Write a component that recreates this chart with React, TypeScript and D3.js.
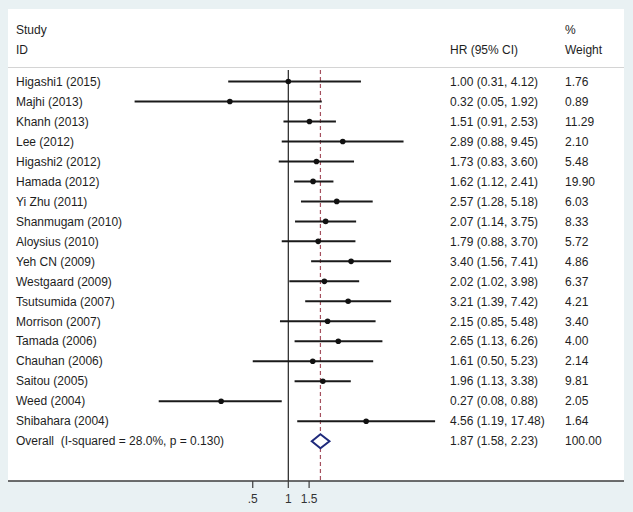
import React from "react";
import * as d3 from "d3";

const studies = [
  "Higashi1 (2015)", "Majhi (2013)", "Khanh (2013)", "Lee (2012)", "Higashi2 (2012)",
  "Hamada (2012)", "Yi Zhu (2011)", "Shanmugam (2010)", "Aloysius (2010)", "Yeh CN (2009)",
  "Westgaard (2009)", "Tsutsumida (2007)", "Morrison (2007)", "Tamada (2006)", "Chauhan (2006)",
  "Saitou (2005)", "Weed (2004)", "Shibahara (2004)",
];
const hr = [1.00, 0.32, 1.51, 2.89, 1.73, 1.62, 2.57, 2.07, 1.79, 3.40, 2.02, 3.21, 2.15, 2.65, 1.61, 1.96, 0.27, 4.56];
const lower = [0.31, 0.05, 0.91, 0.88, 0.83, 1.12, 1.28, 1.14, 0.88, 1.56, 1.02, 1.39, 0.85, 1.13, 0.50, 1.13, 0.08, 1.19];
const upper = [4.12, 1.92, 2.53, 9.45, 3.60, 2.41, 5.18, 3.75, 3.70, 7.41, 3.98, 7.42, 5.48, 6.26, 5.23, 3.38, 0.88, 17.48];
const weights = ["1.76", "0.89", "11.29", "2.10", "5.48", "19.90", "6.03", "8.33", "5.72", "4.86", "6.37", "4.21", "3.40", "4.00", "2.14", "9.81", "2.05", "1.64"];
const overallLabel = "Overall  (I-squared = 28.0%, p = 0.130)";
const overall = { hr: 1.87, lo: 1.58, hi: 2.23, weight: "100.00" };
const tickValues = [0.5, 1, 1.5];
const tickLabels = [".5", "1", "1.5"];

const W = 633;
const H = 512;
const FONT = "'Liberation Sans', Arial, sans-serif";

export default function App() {
  const x = d3.scaleLog().domain([0.05, 17.48]).range([134.6, 435.1]);
  const rows = d3.range(studies.length + 1);
  const y = d3.scaleLinear().domain([0, 18]).range([81.5, 441.2]);
  const fmt = (v: number) => v.toFixed(2);
  const panel = { l: 8, t: 9, r: 624, b: 481 };
  const lineTop = 70;
  const ov = y(studies.length);
  return (
    <svg width={W} height={H} style={{ position: "absolute", left: 0, top: 0, fontFamily: FONT }}>
      <rect x={0} y={0} width={W} height={H} fill="#e9f1f3" />
      <rect x={panel.l} y={panel.t} width={panel.r - panel.l} height={panel.b - panel.t} fill="#ffffff" />
      <g fontSize={12} fill="#1e1e1e">
        <text x={16} y={30} dy="0.35em">Study</text>
        <text x={16} y={50} dy="0.35em">ID</text>
        <text x={450} y={50} dy="0.35em">HR (95% CI)</text>
        <text x={565} y={30} dy="0.35em">%</text>
        <text x={565} y={50} dy="0.35em">Weight</text>
      </g>
      <line x1={panel.l} x2={panel.r} y1={67.5} y2={67.5} stroke="#d4d4d4" strokeWidth={1} />
      {/* reference lines */}
      <line x1={x(1)} x2={x(1)} y1={lineTop} y2={panel.b} stroke="#222" strokeWidth={1.2} />
      <line x1={x(overall.hr)} x2={x(overall.hr)} y1={lineTop} y2={panel.b} stroke="#a4505e" strokeWidth={1.2} strokeDasharray="4,3" />
      {studies.map((s, i) => (
        <g key={s}>
          <line x1={x(lower[i])} x2={x(upper[i])} y1={y(i)} y2={y(i)} stroke="#1a1a1a" strokeWidth={2} />
          <circle cx={x(hr[i])} cy={y(i)} r={2.8} fill="#111" />
          <text x={16} y={y(i)} dy="0.35em" fontSize={12} fill="#1e1e1e">{s}</text>
          <text x={450} y={y(i)} dy="0.35em" fontSize={12} fill="#1e1e1e">
            {`${fmt(hr[i])} (${fmt(lower[i])}, ${fmt(upper[i])})`}
          </text>
          <text x={565} y={y(i)} dy="0.35em" fontSize={12} fill="#1e1e1e">{weights[i]}</text>
        </g>
      ))}
      <path
        d={`M${x(overall.lo)},${ov} L${x(overall.hr)},${ov - 7} L${x(overall.hi)},${ov} L${x(overall.hr)},${ov + 7} Z`}
        fill="#ffffff"
        stroke="#1f2a7c"
        strokeWidth={2}
      />
      <text x={16} y={ov} dy="0.35em" fontSize={12} fill="#1e1e1e" style={{ whiteSpace: "pre" }}>{overallLabel}</text>
      <text x={450} y={ov} dy="0.35em" fontSize={12} fill="#1e1e1e">
        {`${fmt(overall.hr)} (${fmt(overall.lo)}, ${fmt(overall.hi)})`}
      </text>
      <text x={565} y={ov} dy="0.35em" fontSize={12} fill="#1e1e1e">{overall.weight}</text>
      {/* axis */}
      <line x1={panel.l} x2={panel.r} y1={panel.b} y2={panel.b} stroke="#3c3c3c" strokeWidth={1.5} />
      {tickValues.map((t, i) => (
        <g key={t}>
          <line x1={x(t)} x2={x(t)} y1={panel.b} y2={panel.b + 7} stroke="#3c3c3c" strokeWidth={1.2} />
          <text x={x(t)} y={503} textAnchor="middle" fontSize={12} fill="#333">{tickLabels[i]}</text>
        </g>
      ))}
      {rows.length > 0 ? null : null}
    </svg>
  );
}
